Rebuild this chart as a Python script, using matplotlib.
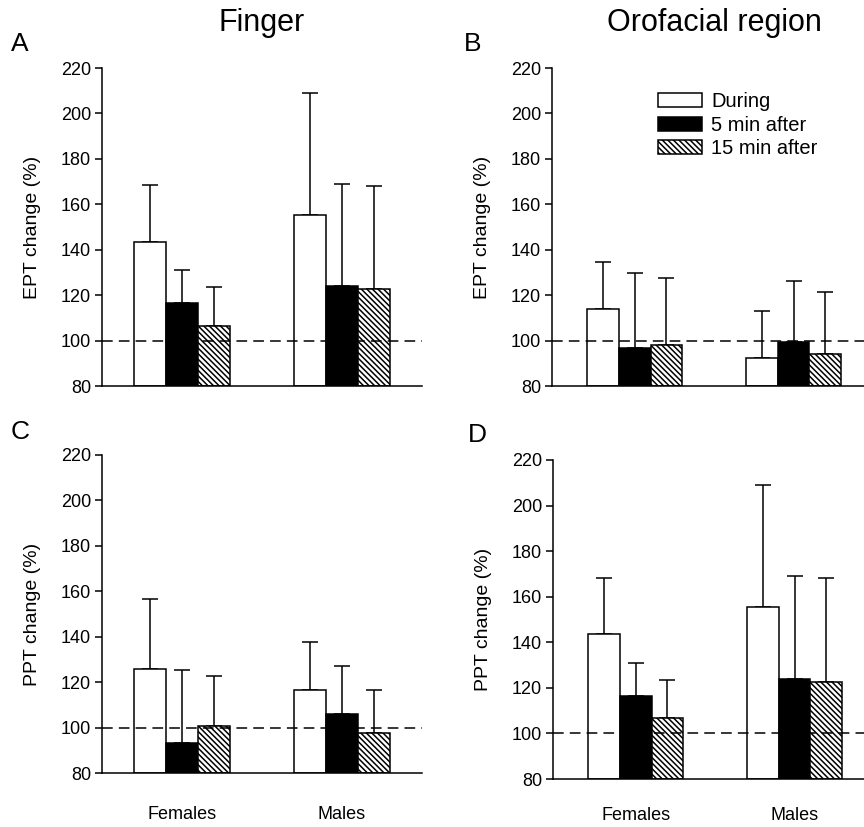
import matplotlib
matplotlib.use("Agg")
import matplotlib.pyplot as plt
import numpy as np

plt.rcParams['font.family'] = ['Liberation Sans', 'DejaVu Sans']
plt.rcParams['hatch.linewidth'] = 1.1

groups = ['Females', 'Males']
conditions = ['During', '5 min after', '15 min after']

# rows = condition (During, 5 min, 15 min), cols = group (Females, Males)
ept_finger_mean = [[143.5, 155.3], [116.6, 123.9], [106.6, 122.5]]
ept_finger_sd = [[24.9, 53.8], [14.5, 45.1], [16.9, 45.5]]

ept_oro_mean = [[114.0, 92.3], [96.7, 99.3], [97.9, 94.2]]
ept_oro_sd = [[20.6, 20.5], [32.9, 27.1], [29.7, 27.2]]

ppt_finger_mean = [[125.9, 116.6], [93.0, 105.9], [100.6, 97.8]]
ppt_finger_sd = [[30.5, 20.9], [32.4, 21.1], [22.0, 18.6]]

ppt_oro_mean = [[143.5, 155.3], [116.6, 123.9], [106.6, 122.5]]
ppt_oro_sd = [[24.9, 53.8], [14.5, 45.1], [16.9, 45.5]]

yticks = [80, 100, 120, 140, 160, 180, 200, 220]

W, H = 864, 827
fig = plt.figure(figsize=(W / 100, H / 100), dpi=100)


def px_axes(left, top, right, bottom):
    return fig.add_axes([left / W, 1 - bottom / H, (right - left) / W, (bottom - top) / H])


styles = [
    dict(facecolor='white', hatch=None),
    dict(facecolor='black', hatch=None),
    dict(facecolor='white', hatch='\\' * 6),
]


def draw_panel(ax, means, sds, ylabel, xlim, show_x, xpad=20):
    x = np.arange(len(groups))
    width = 0.2
    offsets = [-width, 0, width]
    for i, cond in enumerate(conditions):
        m = np.array(means[i])
        s = np.array(sds[i])
        ax.bar(x + offsets[i], m - 80, width, bottom=80, label=cond,
               edgecolor='black', linewidth=1.1, zorder=2, **styles[i])
        ax.errorbar(x + offsets[i], m, yerr=[np.zeros_like(s), s], fmt='none',
                    ecolor='black', elinewidth=1.1, capsize=5.5, capthick=1.1, zorder=1)
    ax.axhline(100, color='black', linestyle=(0, (7, 4)), linewidth=1.1, zorder=3)
    ax.set_ylim(80, 220)
    ax.set_xlim(*xlim)
    ax.set_yticks(yticks)
    ax.tick_params(axis='y', length=5, width=1.1, labelsize=13, pad=3)
    if show_x:
        ax.set_xticks(x)
        ax.set_xticklabels(groups)
        ax.tick_params(axis='x', length=0, labelsize=13, pad=xpad)
    else:
        ax.set_xticks([])
    for side in ['top', 'right']:
        ax.spines[side].set_visible(False)
    for side in ['left', 'bottom']:
        ax.spines[side].set_linewidth(1.1)
    ax.set_ylabel(ylabel, fontsize=14)
    ax.yaxis.set_label_coords(-0.19, 0.5)


axA = px_axes(102, 68, 422, 386)
axB = px_axes(552, 68, 873, 386)
axC = px_axes(102, 455, 422, 773)
axD = px_axes(553, 460, 874, 779)

draw_panel(axA, ept_finger_mean, ept_finger_sd, 'EPT change (%)', (-0.5, 1.5), False)
draw_panel(axB, ept_oro_mean, ept_oro_sd, 'EPT change (%)', (-0.52, 1.5), False)
draw_panel(axC, ppt_finger_mean, ppt_finger_sd, 'PPT change (%)', (-0.5, 1.5), True, 24)
draw_panel(axD, ppt_oro_mean, ppt_oro_sd, 'PPT change (%)', (-0.52, 1.5), True, 20)

axB.legend(loc='upper left', bbox_to_anchor=(0.298, 0.955), frameon=False, fontsize=14.5,
           handlelength=2.2, handleheight=0.7, labelspacing=0.22, handletextpad=0.45,
           borderpad=0)

fig.text(262 / W, 1 - 23 / H, 'Finger', fontsize=22, ha='center', va='center')
fig.text(714 / W, 1 - 23 / H, 'Orofacial region', fontsize=22, ha='center', va='center')

for lab, (px, py) in zip('ABCD', [(20, 44), (473, 44), (20, 432), (477, 435)]):
    fig.text(px / W, 1 - py / H, lab, fontsize=19, ha='center', va='center')

fig.savefig('out.png', dpi=100)
